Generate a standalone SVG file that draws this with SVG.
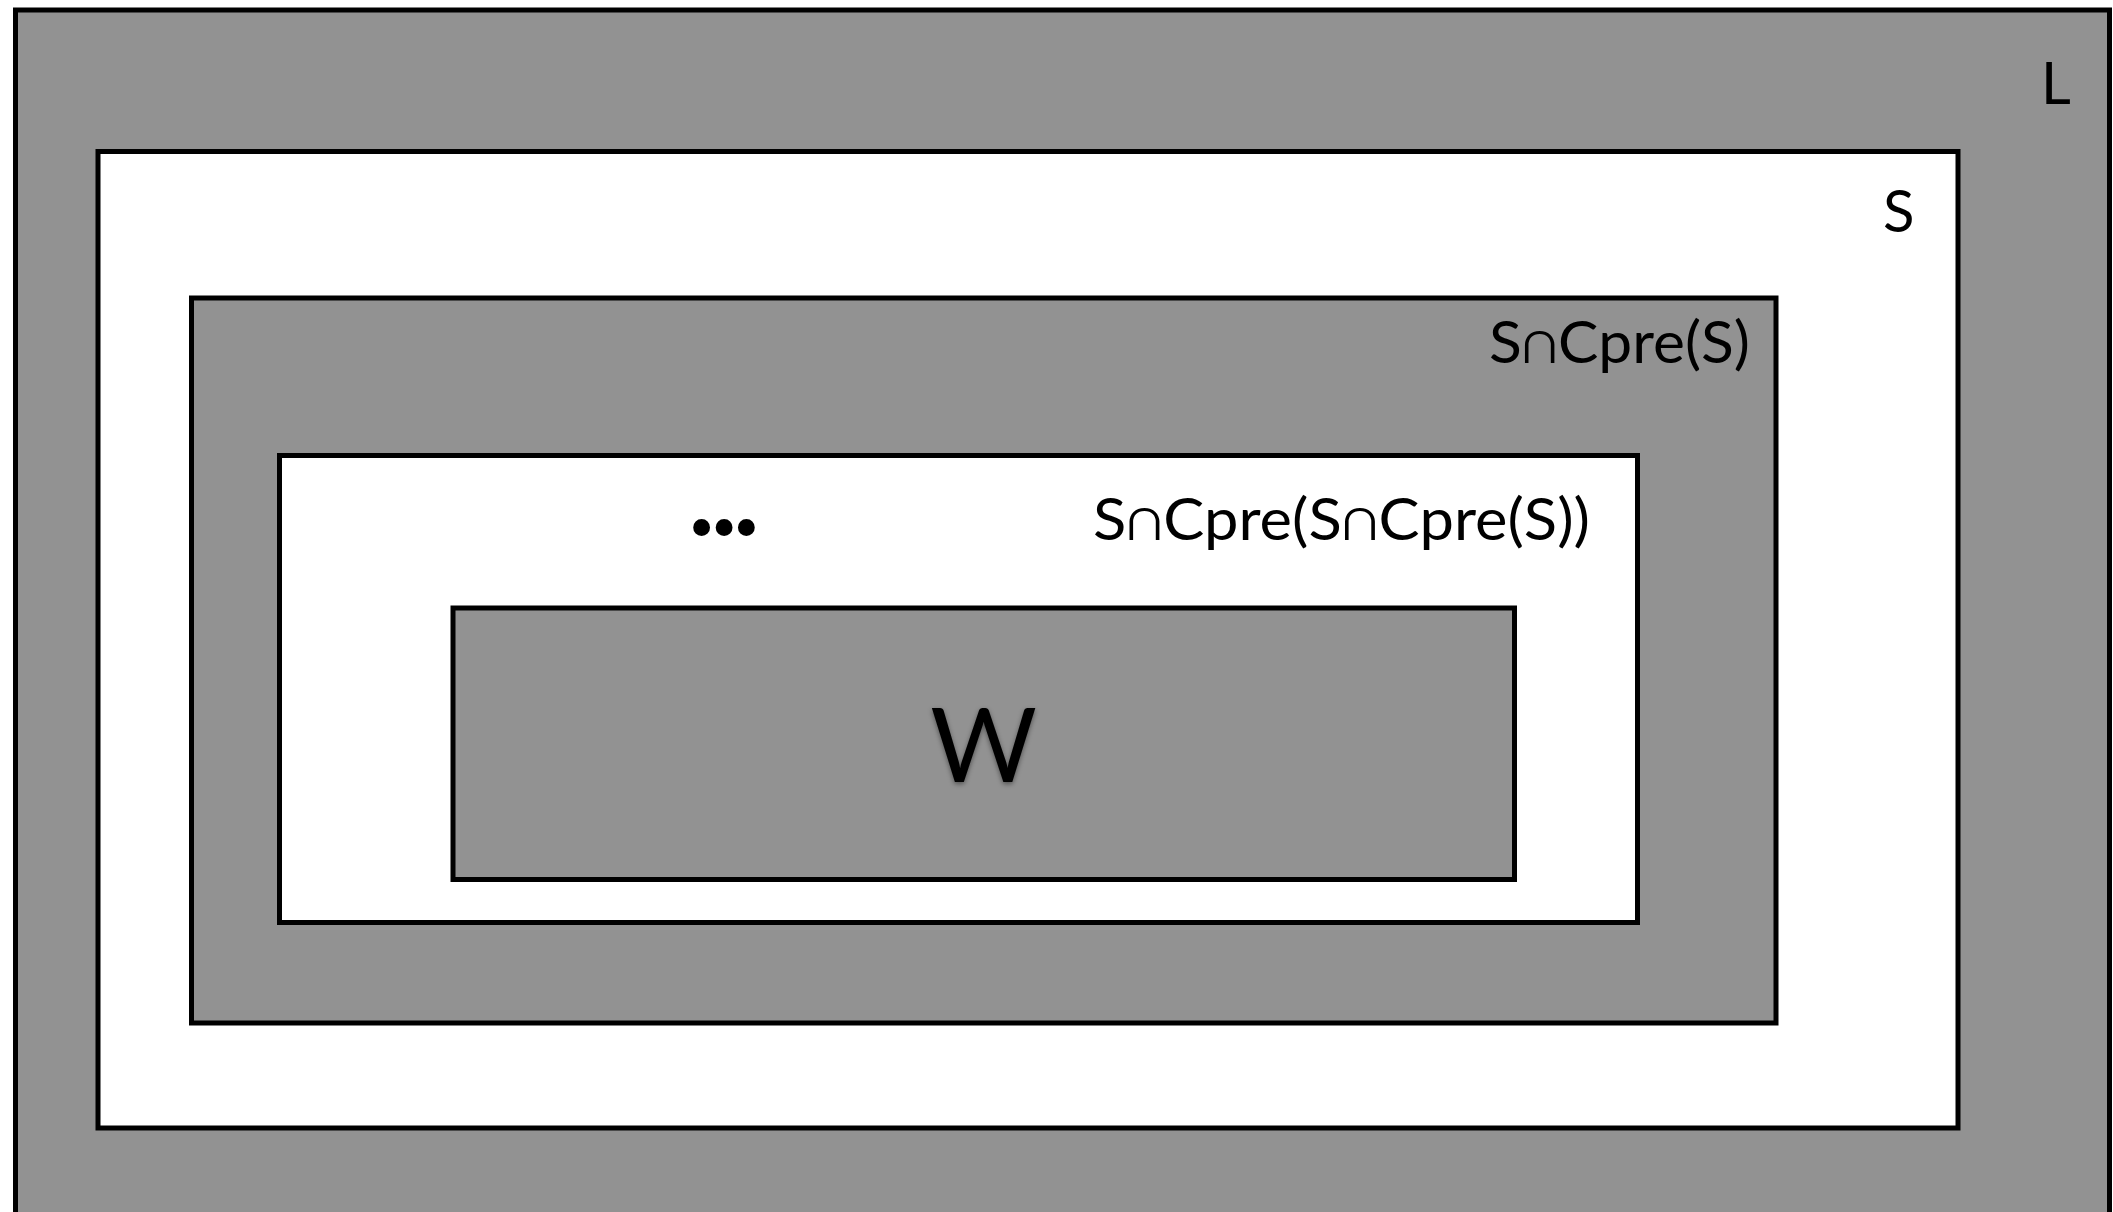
<svg xmlns="http://www.w3.org/2000/svg" width="2113" height="1212" viewBox="0 0 2113 1212">
  <style>
    .region { stroke: #000; stroke-width: 5; }
    .grey { fill: #929292; }
    .white { fill: #ffffff; }
    .label { font-family: Lato, "Open Sans", "DejaVu Sans", sans-serif; font-size: 58px; fill: #000; }
  </style>
  <defs>
    <filter id="softShadow" x="-20%" y="-20%" width="140%" height="140%">
      <feDropShadow dx="0" dy="2" stdDeviation="2.5" flood-color="#000" flood-opacity="0.45"/>
    </filter>
  </defs>
  <rect width="2113" height="1212" fill="#ffffff"/>

  <!-- Nested sets, outermost first -->
  <g id="set-L">
    <rect class="region grey" x="15.5" y="10" width="2094" height="1215"/>
    <text class="label" x="2041" y="104">L</text>
  </g>
  <g id="set-S">
    <rect class="region white" x="98" y="151.5" width="1860" height="976.5"/>
    <text class="label" x="1883" y="232">S</text>
  </g>
  <g id="set-S-cpre-S">
    <rect class="region grey" x="191.5" y="298" width="1584.5" height="725"/>
    <text class="label" x="1750" y="363" text-anchor="end" textLength="261" lengthAdjust="spacingAndGlyphs">S∩Cpre(S)</text>
  </g>
  <g id="set-S-cpre-S-cpre-S">
    <rect class="region white" x="279.5" y="455.5" width="1358" height="467"/>
    <text class="label" x="1590" y="540" text-anchor="end" textLength="497" lengthAdjust="spacingAndGlyphs">S∩Cpre(S∩Cpre(S))</text>
    <!-- round ellipsis dots -->
    <text x="724" y="549" text-anchor="middle" font-family="'DejaVu Sans', sans-serif" font-size="58" textLength="79" lengthAdjust="spacing" fill="#000">•••</text>
  </g>
  <g id="set-W">
    <rect class="region grey" x="453" y="608" width="1061.5" height="271.5"/>
    <text x="983.5" y="782" text-anchor="middle" font-family="Lato, 'Open Sans', sans-serif" font-size="103" fill="#000" filter="url(#softShadow)">W</text>
  </g>

  <g id="connectors"/>
</svg>
